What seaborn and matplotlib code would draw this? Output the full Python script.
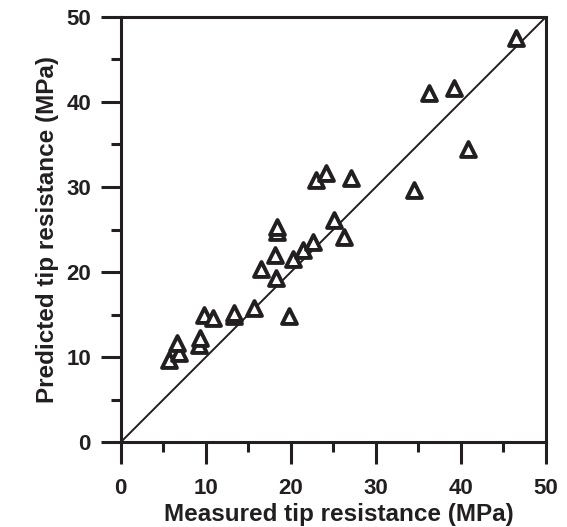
import matplotlib
matplotlib.use("Agg")
import matplotlib.pyplot as plt
import seaborn as sns
import pandas as pd
import numpy as np
from matplotlib.ticker import MultipleLocator

measured = [5.7, 6.8, 6.6, 9.2, 9.3, 9.8, 10.9, 13.3, 13.3, 15.7,
            16.5, 18.2, 18.1, 18.4, 18.4, 19.8, 20.2, 21.4, 22.6, 23.0,
            24.1, 25.1, 26.2, 27.1, 34.5, 36.2, 39.2, 40.8, 46.5]
predicted = [9.6, 10.5, 11.7, 11.4, 12.2, 15.0, 14.6, 14.8, 15.2, 15.8,
             20.4, 19.3, 22.0, 24.7, 25.3, 14.8, 21.5, 22.6, 23.5, 30.8,
             31.7, 26.1, 24.1, 31.1, 29.6, 41.1, 41.6, 34.5, 47.5]
ticks = [0, 10, 20, 30, 40, 50]

df = pd.DataFrame({"Measured": measured, "Predicted": predicted})

INK = "#231f20"
sns.set_style("white")
plt.rcParams['font.family'] = ['Liberation Sans', 'DejaVu Sans']
plt.rcParams['font.weight'] = 'bold'

fig = plt.figure(figsize=(5.67, 5.27), dpi=100)
ax = fig.add_axes([0.213, 0.161, 0.75, 0.807])

sns.lineplot(x=[0, 50], y=[0, 50], color=INK, linewidth=1.4, ax=ax)
sns.scatterplot(data=df, x="Measured", y="Predicted", marker="^", s=115,
                facecolor="white", edgecolor=INK, linewidth=2.8, ax=ax, zorder=3)

ax.set_xlim(0, 50)
ax.set_ylim(0, 50)
ax.set_xticks(ticks)
ax.set_yticks(ticks)
ax.xaxis.set_minor_locator(MultipleLocator(5))
ax.yaxis.set_minor_locator(MultipleLocator(5))
ax.tick_params(axis="x", which="major", direction="out", length=16, width=2.2, color=INK,
               labelsize=16, pad=10, bottom=True, labelcolor=INK)
ax.tick_params(axis="y", which="major", direction="out", length=14.5, width=2.2, color=INK,
               labelsize=16, pad=7, left=True, labelcolor=INK)
ax.tick_params(which="minor", direction="out", length=7.5, width=2.2, color=INK,
               bottom=True, left=True)
for lab in ax.get_xticklabels() + ax.get_yticklabels():
    lab.set_fontweight("bold")
for sp in ax.spines.values():
    sp.set_linewidth(2.2)
    sp.set_color(INK)
    sp.set_visible(True)

ax.set_xlabel("Measured tip resistance (MPa)", fontsize=17.5, fontweight="bold",
              labelpad=3, color=INK)
ax.xaxis.label.set_x(0.513)
ax.set_ylabel("Predicted tip resistance (MPa)", fontsize=17.5, fontweight="bold",
              labelpad=5, color=INK)

fig.savefig("out.png", dpi=100)
